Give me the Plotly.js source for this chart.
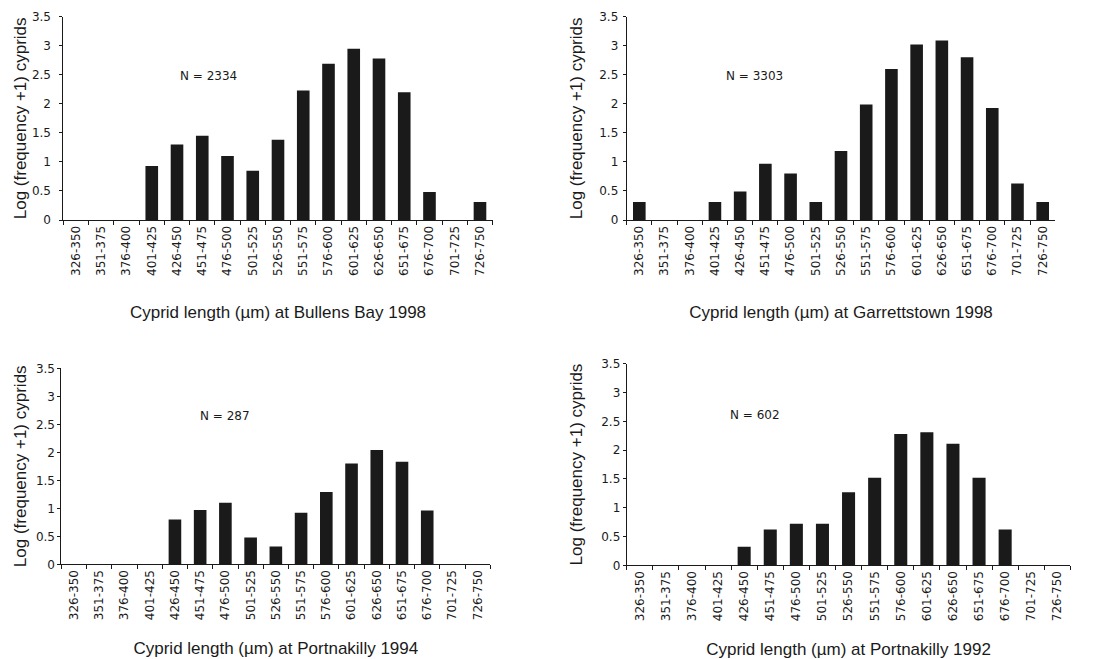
<!DOCTYPE html>
<html>
<head>
<meta charset="utf-8">
<script src="https://cdn.plot.ly/plotly-3.0.1.min.js"></script>
<style>
html,body{margin:0;padding:0;background:#fff;}
#chart{width:1095px;height:659px;}
</style>
</head>
<body>
<div id="chart"></div>
<script>
const categories = ["326-350","351-375","376-400","401-425","426-450","451-475","476-500","501-525","526-550","551-575","576-600","601-625","626-650","651-675","676-700","701-725","726-750"];
const bullensBay1998 = [0,0,0,0.93,1.30,1.45,1.10,0.85,1.38,2.23,2.69,2.95,2.78,2.20,0.48,0,0.31];
const garrettstown1998 = [0.31,0,0,0.31,0.49,0.97,0.80,0.31,1.19,1.99,2.60,3.02,3.09,2.80,1.93,0.63,0.31];
const portnakilly1994 = [0,0,0,0,0.80,0.97,1.10,0.48,0.32,0.92,1.29,1.80,2.04,1.83,0.96,0,0];
const portnakilly1992 = [0,0,0,0,0.32,0.62,0.72,0.72,1.27,1.52,2.28,2.31,2.11,1.52,0.62,0,0];
const panelTitles = ["Cyprid length (\u00b5m) at Bullens Bay 1998","Cyprid length (\u00b5m) at Garrettstown 1998","Cyprid length (\u00b5m) at Portnakilly 1994","Cyprid length (\u00b5m) at Portnakilly 1992"];
const sampleSizes = ["N = 2334","N = 3303","N = 287","N = 602"];
const yTitle = "Log (frequency +1) cyprids";

const W = 1095, H = 659;
const series = [bullensBay1998, garrettstown1998, portnakilly1994, portnakilly1992];
// panel boxes in pixels: [left, right, top(3.5), bottom(0)]
const boxes = [[63.4,492.6,16.7,220],[626.7,1055.3,16.7,220],[61.4,490.3,368.3,564.3],[626.7,1070.4,363.7,565.3]];
const nPos = [[208,76],[754,76],[225,416],[755,415]];
const yLabelStandoff = [6,2,0,0];
const yTitleStandoff = [0,12,4,14];
const xTitleStandoff = [31,31,22,22];

const font = "Arial, 'Liberation Sans', sans-serif";
const tickFont = "'DejaVu Sans', sans-serif";
const traces = [];
const layout = {
  width: W, height: H,
  margin: {l:0,r:0,t:0,b:0},
  paper_bgcolor: "#fff", plot_bgcolor: "#fff",
  showlegend: false,
  bargap: 0.5,
  font: {family: font, color: "#1a1a1a"},
  annotations: []
};
series.forEach((vals, i) => {
  const k = i === 0 ? "" : String(i+1);
  traces.push({
    type: "bar", x: categories, y: vals,
    xaxis: "x"+k, yaxis: "y"+k,
    marker: {color: "#1a1a1a", line: {width: 0}},
    hoverinfo: "x+y"
  });
  const b = boxes[i];
  layout["xaxis"+k] = {
    domain: [b[0]/W, b[1]/W],
    anchor: "y"+k,
    type: "category",
    categoryorder: "array", categoryarray: categories,
    tickangle: -90,
    tickson: "boundaries",
    ticks: "outside", ticklen: 4, tickcolor: "#1a1a1a",
    showline: true, linecolor: "#1a1a1a", linewidth: 1,
    showgrid: false, zeroline: false,
    tickfont: {size: 12, family: tickFont, color: "#1a1a1a"},
    title: {text: panelTitles[i], font: {size: 17, family: font, color: "#1a1a1a"}, standoff: xTitleStandoff[i]},
    fixedrange: true
  };
  layout["yaxis"+k] = {
    domain: [(H-b[3])/H, (H-b[2])/H],
    anchor: "x"+k,
    range: [0, 3.5],
    dtick: 0.5, tick0: 0,
    ticks: "outside", ticklen: 3, tickcolor: "#1a1a1a",
    ticklabelstandoff: yLabelStandoff[i],
    showline: true, linecolor: "#1a1a1a", linewidth: 1,
    showgrid: false, zeroline: false,
    tickfont: {size: 12, family: tickFont, color: "#1a1a1a"},
    title: {text: yTitle, font: {size: 17, family: font, color: "#1a1a1a"}, standoff: yTitleStandoff[i]},
    fixedrange: true
  };
  layout.annotations.push({
    xref: "paper", yref: "paper",
    x: nPos[i][0]/W, y: (H-nPos[i][1])/H,
    xanchor: "center", yanchor: "middle",
    text: sampleSizes[i], showarrow: false,
    font: {size: 12, family: tickFont, color: "#1a1a1a"}
  });
});
Plotly.newPlot("chart", traces, layout, {displayModeBar: false, staticPlot: true});
</script>
</body>
</html>
